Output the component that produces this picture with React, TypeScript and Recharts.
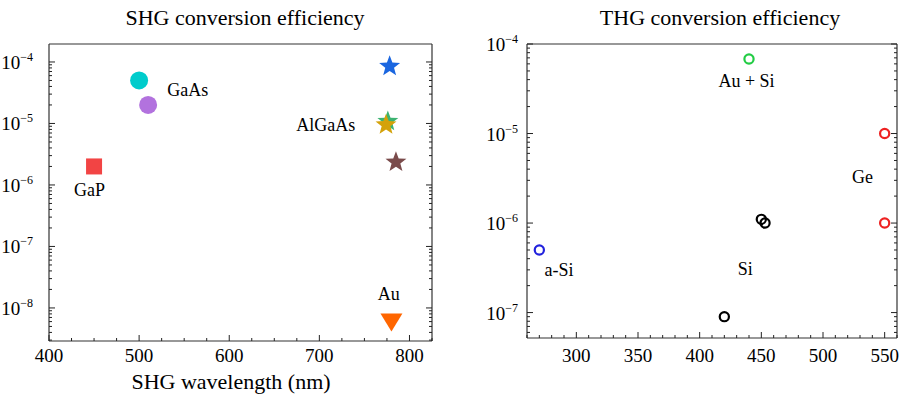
import { ScatterChart, Scatter, XAxis, YAxis, ReferenceDot } from "recharts";

// SHG panel: one point per material/work
const shgNames = ["GaP", "GaAs-1", "GaAs-2", "AlGaAs-1", "AlGaAs-2", "AlGaAs-3", "AlGaAs-4", "Au"];
const shgWavelength = [450, 500, 510, 778, 776, 774, 785, 780];
const shgEfficiency = [2e-6, 5e-5, 2e-5, 8.5e-5, 1.08e-5, 9.5e-6, 2.35e-6, 6e-9];

// THG panel, by material
const aSiWl = [270];
const aSiEff = [5e-7];
const auSiWl = [440];
const auSiEff = [6.8e-5];
const siWl = [420, 450, 453];
const siEff = [9e-8, 1.1e-6, 1.0e-6];
const geWl = [550, 550];
const geEff = [1e-5, 1e-6];

// ticks
const shgXMajor = [400, 500, 600, 700, 800];
const thgXMajor = [300, 350, 400, 450, 500, 550];

// annotation text
const shgLabels = [
  { text: "GaAs", wl: 554, eff: 3.5e-5 },
  { text: "AlGaAs", wl: 707, eff: 9.6e-6 },
  { text: "GaP", wl: 445, eff: 8.3e-7 },
  { text: "Au", wl: 777, eff: 1.7e-8 },
];
const thgLabels = [
  { text: "Au + Si", wl: 438, eff: 3.9e-5 },
  { text: "Ge", wl: 532, eff: 3.3e-6 },
  { text: "a-Si", wl: 286, eff: 3.0e-7 },
  { text: "Si", wl: 437, eff: 3.1e-7 },
];

const FONT = "'Liberation Serif', 'Times New Roman', serif";
const AXIS = "#333";

const SHG_X_DOMAIN: [number, number] = [400, 825];
const SHG_Y_DOMAIN: [number, number] = [2.9e-9, 1.96e-4];
const THG_X_DOMAIN: [number, number] = [260, 560];
const THG_Y_DOMAIN: [number, number] = [5.2e-8, 1e-4];

const SHG_STYLES = [
  { shape: "square", color: "#F24444" },
  { shape: "circle", color: "#00CCCC" },
  { shape: "circle", color: "#B272DE" },
  { shape: "star", color: "#1A66E0" },
  { shape: "star", color: "#3CB371" },
  { shape: "star", color: "#D4A20A" },
  { shape: "star", color: "#7A4B4B" },
  { shape: "triangle", color: "#FF6600" },
];

function linTicks(majors: number[], step: number, domain: [number, number]) {
  const out: number[] = [];
  for (let v = majors[0] - 4 * step; v <= domain[1]; v += step) {
    if (v >= domain[0]) out.push(v);
  }
  return out;
}

function logTicks(domain: [number, number]) {
  const out: number[] = [];
  for (let d = -10; d <= -3; d++) {
    for (let m = 1; m <= 9; m++) {
      const v = m * Math.pow(10, d);
      if (v >= domain[0] * 0.9999 && v <= domain[1] * 1.0001) out.push(v);
    }
  }
  return out;
}

const isDecade = (v: number) => Math.abs(Math.log10(v) - Math.round(Math.log10(v))) < 1e-6;

function makeTick(orient: string, majors: number[] | null, opts: { label?: boolean; gap?: number } = {}) {
  return (props: any) => {
    const { x, y, payload } = props;
    const v = payload.value;
    const major = majors ? majors.some((m) => Math.abs(m - v) < 1e-9) : isDecade(v);
    const len = major ? 6 : 3;
    let line;
    if (orient === "bottom") line = <line x1={x} y1={y} x2={x} y2={y - len} />;
    else if (orient === "top") line = <line x1={x} y1={y} x2={x} y2={y + len} />;
    else if (orient === "left") line = <line x1={x} y1={y} x2={x + len} y2={y} />;
    else line = <line x1={x} y1={y} x2={x - len} y2={y} />;
    let label = null;
    if (opts.label && major) {
      if (orient === "bottom") {
        label = (
          <text x={x} y={y + (opts.gap ?? 21)} textAnchor="middle" fontSize={19} fontFamily={FONT} fill="#000" stroke="none">
            {v}
          </text>
        );
      } else if (orient === "left") {
        const e = Math.round(Math.log10(v));
        label = (
          <text x={x - (opts.gap ?? 16)} y={y + 7} textAnchor="end" fontSize={19} fontFamily={FONT} fill="#000" stroke="none">
            <tspan>10</tspan>
            <tspan dy={-8} fontSize={12}>{"\u2212" + Math.abs(e)}</tspan>
          </text>
        );
      }
    }
    return (
      <g stroke="#222" strokeWidth={1}>
        {line}
        {label}
      </g>
    );
  };
}

function shapeFor(kind: string, color: string) {
  return (props: any) => {
    const { cx, cy } = props;
    if (kind === "circle") return <circle cx={cx} cy={cy} r={9} fill={color} />;
    if (kind === "square") return <rect x={cx - 8} y={cy - 8} width={16} height={16} fill={color} />;
    if (kind === "triangle")
      return <polygon points={`${cx - 11},${cy - 8} ${cx + 11},${cy - 8} ${cx},${cy + 10}`} fill={color} />;
    const pts: string[] = [];
    for (let i = 0; i < 10; i++) {
      const r = i % 2 === 0 ? 11 : 4.6;
      const a = -Math.PI / 2 + (i * Math.PI) / 5;
      pts.push(`${cx + r * Math.cos(a)},${cy + r * Math.sin(a)}`);
    }
    return <polygon points={pts.join(" ")} fill={color} />;
  };
}

function ring(color: string) {
  return (props: any) => <circle cx={props.cx} cy={props.cy} r={4.6} fill="none" stroke={color} strokeWidth={2.2} />;
}

const toPoints = (wl: number[], eff: number[]) => wl.map((w, i) => ({ wl: w, eff: eff[i] }));

const labelStyle = { fontSize: 18, fontFamily: FONT, fill: "#000" };

function SHGPanel() {
  const xt = linTicks(shgXMajor, 25, SHG_X_DOMAIN);
  const yt = logTicks(SHG_Y_DOMAIN);
  return (
    <ScatterChart width={450} height={396} margin={{ top: 43, right: 17, bottom: 0, left: 0 }}>
      <XAxis dataKey="wl" type="number" domain={SHG_X_DOMAIN} allowDataOverflow ticks={xt} interval={0}
        height={55} tickSize={0} tickMargin={0} tick={makeTick("bottom", shgXMajor, { label: true, gap: 21 })}
        axisLine={{ stroke: AXIS, strokeWidth: 1.2 }} />
      <XAxis xAxisId="top" orientation="top" type="number" domain={SHG_X_DOMAIN} allowDataOverflow ticks={xt} interval={0}
        height={1} tickSize={0} tickMargin={0} tick={makeTick("top", shgXMajor)}
        axisLine={{ stroke: AXIS, strokeWidth: 1.2 }} />
      <YAxis dataKey="eff" type="number" scale="log" domain={SHG_Y_DOMAIN} allowDataOverflow ticks={yt} interval={0}
        width={49} tickSize={0} tickMargin={0} tick={makeTick("left", null, { label: true, gap: 16 })}
        axisLine={{ stroke: AXIS, strokeWidth: 1.2 }} />
      <YAxis yAxisId="right" orientation="right" type="number" scale="log" domain={SHG_Y_DOMAIN} allowDataOverflow ticks={yt} interval={0}
        width={1} tickSize={0} tickMargin={0} tick={makeTick("right", null)}
        axisLine={{ stroke: AXIS, strokeWidth: 1.2 }} />
      {shgNames.map((name, i) => (
        <Scatter key={name} name={name} data={[{ wl: shgWavelength[i], eff: shgEfficiency[i] }]}
          shape={shapeFor(SHG_STYLES[i].shape, SHG_STYLES[i].color)} isAnimationActive={false} />
      ))}
      {shgLabels.map((l) => (
        <ReferenceDot key={l.text} x={l.wl} y={l.eff} r={1} fillOpacity={0} strokeOpacity={0} ifOverflow="visible"
          label={{ value: l.text, position: "center", ...labelStyle }} />
      ))}
    </ScatterChart>
  );
}

function THGPanel() {
  const xt = linTicks(thgXMajor, 10, THG_X_DOMAIN);
  const yt = logTicks(THG_Y_DOMAIN);
  return (
    <ScatterChart width={455} height={396} margin={{ top: 43, right: 7, bottom: 0, left: 0 }}>
      <XAxis dataKey="wl" type="number" domain={THG_X_DOMAIN} allowDataOverflow ticks={xt} interval={0}
        height={58} tickSize={0} tickMargin={0} tick={makeTick("bottom", thgXMajor, { label: true, gap: 24 })}
        axisLine={{ stroke: AXIS, strokeWidth: 1.2 }} />
      <XAxis xAxisId="top" orientation="top" type="number" domain={THG_X_DOMAIN} allowDataOverflow ticks={xt} interval={0}
        height={1} tickSize={0} tickMargin={0} tick={makeTick("top", thgXMajor)}
        axisLine={{ stroke: AXIS, strokeWidth: 1.2 }} />
      <YAxis dataKey="eff" type="number" scale="log" domain={THG_Y_DOMAIN} allowDataOverflow ticks={yt} interval={0}
        width={77} tickSize={0} tickMargin={0} tick={makeTick("left", null, { label: true, gap: 9 })}
        axisLine={{ stroke: AXIS, strokeWidth: 1.2 }} />
      <YAxis yAxisId="right" orientation="right" type="number" scale="log" domain={THG_Y_DOMAIN} allowDataOverflow ticks={yt} interval={0}
        width={1} tickSize={0} tickMargin={0} tick={makeTick("right", null)}
        axisLine={{ stroke: AXIS, strokeWidth: 1.2 }} />
      <Scatter name="a-Si" data={toPoints(aSiWl, aSiEff)} shape={ring("#2222DD")} isAnimationActive={false} />
      <Scatter name="Au + Si" data={toPoints(auSiWl, auSiEff)} shape={ring("#22CC44")} isAnimationActive={false} />
      <Scatter name="Si" data={toPoints(siWl, siEff)} shape={ring("#000000")} isAnimationActive={false} />
      <Scatter name="Ge" data={toPoints(geWl, geEff)} shape={ring("#EE2222")} isAnimationActive={false} />
      {thgLabels.map((l) => (
        <ReferenceDot key={l.text} x={l.wl} y={l.eff} r={1} fillOpacity={0} strokeOpacity={0} ifOverflow="visible"
          label={{ value: l.text, position: "center", ...labelStyle }} />
      ))}
    </ScatterChart>
  );
}

export default function App() {
  return (
    <div style={{ position: "absolute", left: 0, top: 0, width: 905, height: 396, background: "#fff", fontFamily: FONT }}>
      <div style={{ position: "absolute", left: 0, top: 0 }}>
        <SHGPanel />
      </div>
      <div style={{ position: "absolute", left: 450, top: 0 }}>
        <THGPanel />
      </div>
      <svg width={905} height={396} style={{ position: "absolute", left: 0, top: 0, pointerEvents: "none" }}>
        <text x={245} y={25} textAnchor="middle" fontSize={22} fontFamily={FONT} fill="#000">SHG conversion efficiency</text>
        <text x={720} y={25} textAnchor="middle" fontSize={22} fontFamily={FONT} fill="#000">THG conversion efficiency</text>
        <text x={231} y={389} textAnchor="middle" fontSize={22} fontFamily={FONT} fill="#000">SHG wavelength (nm)</text>
      </svg>
    </div>
  );
}
